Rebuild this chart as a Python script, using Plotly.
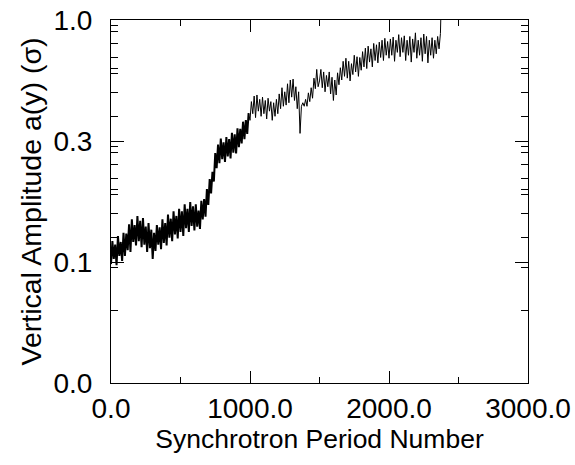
import plotly.graph_objects as go

# ---- data ----
x_early = list(range(0, 1000, 10))
y_early = [
    0.098, 0.122, 0.103, 0.118, 0.097, 0.128, 0.106, 0.121, 0.101, 0.132,
    0.106, 0.131, 0.112, 0.143, 0.110, 0.150, 0.121, 0.142, 0.117, 0.155,
    0.122, 0.148, 0.115, 0.152, 0.118, 0.140, 0.110, 0.145, 0.114, 0.136,
    0.103, 0.132, 0.111, 0.142, 0.118, 0.139, 0.113, 0.150, 0.120, 0.145,
    0.117, 0.157, 0.126, 0.151, 0.122, 0.162, 0.130, 0.155, 0.125, 0.166,
    0.133, 0.162, 0.128, 0.173, 0.138, 0.166, 0.133, 0.177, 0.141, 0.170,
    0.135, 0.173, 0.140, 0.163, 0.137, 0.179, 0.150, 0.182, 0.154, 0.200,
    0.172, 0.220, 0.192, 0.236, 0.215, 0.282, 0.244, 0.306, 0.256, 0.324,
    0.266, 0.312, 0.259, 0.328, 0.273, 0.322, 0.268, 0.342, 0.283, 0.337,
    0.281, 0.357, 0.298, 0.355, 0.309, 0.380, 0.322, 0.386, 0.338, 0.412,
]
x_late = list(range(1000, 2380, 10)) + [2380]
y_late = [
    0.385, 0.460, 0.410, 0.485, 0.395, 0.490, 0.420, 0.470, 0.400, 0.480,
    0.410, 0.465, 0.390, 0.475, 0.420, 0.460, 0.385, 0.455, 0.400, 0.470,
    0.410, 0.495, 0.430, 0.525, 0.440, 0.505, 0.445, 0.545, 0.455, 0.565,
    0.480, 0.570, 0.465, 0.530, 0.430, 0.505, 0.340, 0.440, 0.455, 0.440,
    0.470, 0.440, 0.500, 0.460, 0.525, 0.475, 0.575, 0.520, 0.625, 0.530,
    0.560, 0.625, 0.525, 0.610, 0.505, 0.590, 0.530, 0.610, 0.495, 0.580,
    0.465, 0.565, 0.490, 0.605, 0.540, 0.635, 0.565, 0.675, 0.585, 0.695,
    0.575, 0.675, 0.560, 0.660, 0.595, 0.715, 0.610, 0.705, 0.585, 0.700,
    0.620, 0.740, 0.640, 0.765, 0.630, 0.780, 0.670, 0.760, 0.640, 0.800,
    0.680, 0.790, 0.665, 0.810, 0.700, 0.825, 0.680, 0.840, 0.715, 0.815,
    0.695, 0.835, 0.715, 0.850, 0.675, 0.825, 0.735, 0.870, 0.705, 0.845,
    0.735, 0.860, 0.680, 0.825, 0.715, 0.855, 0.670, 0.835, 0.735, 0.885,
    0.695, 0.825, 0.715, 0.845, 0.675, 0.875, 0.725, 0.855, 0.665, 0.825,
    0.715, 0.845, 0.695, 0.825, 0.725, 0.855, 0.760, 0.880,
    1.500,
]

x_tickvals = [0, 1000, 2000, 3000]
x_ticktext = ["0.0", "1000.0", "2000.0", "3000.0"]
y_tickvals = [10 ** -1.5, 0.1, 10 ** -0.5, 1.0]
y_ticktext = ["0.0", "0.1", "0.3", "1.0"]
minor_factors = [0.95, 0.9, 0.8, 0.7, 10 ** -0.2, 0.6, 0.5, 0.4]
y_minor = list(minor_factors) + [f * 10 ** -0.5 for f in minor_factors] + [0.095, 0.1 * 10 ** -0.2]

FONT = "Liberation Sans, Arial, sans-serif"

fig = go.Figure()
# dense, strongly oscillating part of the record
fig.add_trace(go.Scatter(x=x_early, y=y_early, mode="lines",
                         line=dict(color="black", width=2), showlegend=False))
# later part of the same record (joined to the last early sample)
fig.add_trace(go.Scatter(x=[x_early[-1]] + x_late, y=[y_early[-1]] + y_late, mode="lines",
                         line=dict(color="black", width=1), showlegend=False))

fig.update_layout(
    width=575, height=465,
    margin=dict(l=111, r=47, t=20, b=82, autoexpand=False),
    paper_bgcolor="white", plot_bgcolor="white",
    font=dict(family=FONT, size=22, color="black"),
)
fig.update_xaxes(
    range=[0, 3000], showgrid=False, zeroline=False, automargin=False,
    showline=True, linecolor="black", linewidth=1, mirror="ticks",
    ticks="inside", ticklen=12, tickwidth=1, tickcolor="black",
    tickvals=x_tickvals, ticktext=x_ticktext,
    tickfont=dict(size=28),
    minor=dict(tickvals=[500, 1500, 2500], ticks="inside", ticklen=6, tickcolor="black", showgrid=False),
    title=dict(text="Synchrotron Period Number", font=dict(size=26.5), standoff=2),
)
fig.update_yaxes(
    type="log", range=[-1.5, 0], showgrid=False, zeroline=False, automargin=False,
    showline=True, linecolor="black", linewidth=1, mirror="ticks",
    ticks="inside", ticklen=13, tickwidth=1, tickcolor="black",
    tickvals=y_tickvals, ticktext=y_ticktext,
    tickfont=dict(size=28), ticklabelstandoff=12,
    minor=dict(tickvals=y_minor, ticks="inside", ticklen=7, tickcolor="black", showgrid=False),
    title=dict(text="Vertical Amplitude a(y) (σ)", font=dict(size=28.5), standoff=3),
)

fig.write_html("out.html")
